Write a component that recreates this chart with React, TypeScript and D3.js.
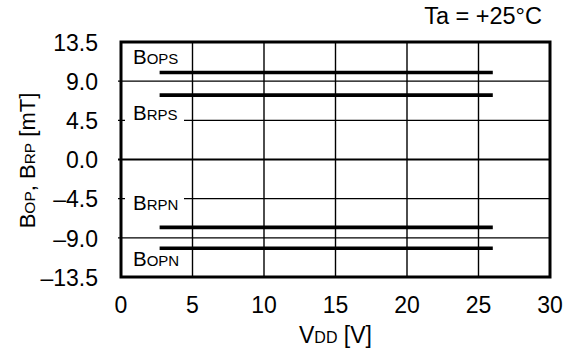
import * as d3 from "d3";
import React from "react";

// supply voltage range of the characteristic lines
const vddRange = [2.7, 26];
const seriesNames = ["BOPS", "BRPS", "BRPN", "BOPN"];
const seriesValues = [10.0, 7.4, -7.8, -10.2];

const xTicks = [0, 5, 10, 15, 20, 25, 30];
const yTicks = [13.5, 9.0, 4.5, 0.0, -4.5, -9.0, -13.5];
const yTickLabels = ["13.5", "9.0", "4.5", "0.0", "–4.5", "–9.0", "–13.5"];

// label text: main letter, small subscript, baseline value in mT
const labelMain = ["B", "B", "B", "B"];
const labelSub = ["OPS", "RPS", "RPN", "OPN"];
const labelBase = [10.95, 4.55, -5.85, -12.25];

const W = 575;
const H = 351;
const margin = { top: 42, right: 25, bottom: 74, left: 121 };
const FONT = "'Liberation Sans', Arial, sans-serif";

const App = () => {
  const x = d3.scaleLinear().domain([0, 30]).range([margin.left, W - margin.right]);
  const y = d3.scaleLinear().domain([-13.5, 13.5]).range([H - margin.bottom, margin.top]);
  const [x0, x1] = x.range();
  const [yb, yt] = y.range();

  return (
    <svg width={W} height={H} style={{ position: "absolute", left: 0, top: 0, background: "#fff" }} fontFamily={FONT}>
      {/* grid */}
      {xTicks.slice(1, -1).map((t) => (
        <line key={"gx" + t} x1={x(t)} x2={x(t)} y1={yt} y2={yb} stroke="#000" strokeWidth={1.4} />
      ))}
      {yTicks.slice(1, -1).map((t) => (
        <line key={"gy" + t} x1={x0 - 3} x2={x1} y1={y(t)} y2={y(t)} stroke="#000" strokeWidth={t === 0 ? 1.8 : 1.4} />
      ))}

      {/* series labels with white boxes */}
      {labelSub.map((s, i) => (
        <g key={s}>
          <rect x={x0 + 4} y={y(labelBase[i]) - 16} width={59} height={18} fill="#fff" />
          <text x={x0 + 12} y={y(labelBase[i])} fontSize={20.5} fill="#000">
            {labelMain[i]}
            <tspan fontSize={15}>{s}</tspan>
          </text>
        </g>
      ))}

      {/* characteristic lines */}
      {seriesValues.map((v, i) => (
        <line
          key={seriesNames[i]}
          x1={x(vddRange[0])}
          x2={x(vddRange[1])}
          y1={y(v)}
          y2={y(v)}
          stroke="#000"
          strokeWidth={3.6}
        />
      ))}

      {/* frame */}
      <rect x={x0} y={yt} width={x1 - x0} height={yb - yt} fill="none" stroke="#000" strokeWidth={3} />

      {/* tick labels */}
      {yTicks.map((t, i) => (
        <text key={"yl" + t} x={98} y={y(t)} dy="0.38em" textAnchor="end" fontSize={23} fill="#000">
          {yTickLabels[i]}
        </text>
      ))}
      {xTicks.map((t) => (
        <text key={"xl" + t} x={x(t)} y={313} textAnchor="middle" fontSize={23} fill="#000">
          {t}
        </text>
      ))}

      {/* axis titles */}
      <text x={(x0 + x1) / 2} y={343} textAnchor="middle" fontSize={23} fill="#000">
        V<tspan fontSize={16}>DD</tspan> [V]
      </text>
      <text transform={`translate(35, ${(yt + yb) / 2 + 1}) rotate(-90)`} textAnchor="middle" fontSize={22} fill="#000">
        B<tspan fontSize={15.5}>OP</tspan>, B<tspan fontSize={15.5}>RP</tspan> [mT]
      </text>
      <text x={542} y={24} textAnchor="end" fontSize={23.5} fill="#000">
        Ta = +25°C
      </text>
    </svg>
  );
};

export default App;
